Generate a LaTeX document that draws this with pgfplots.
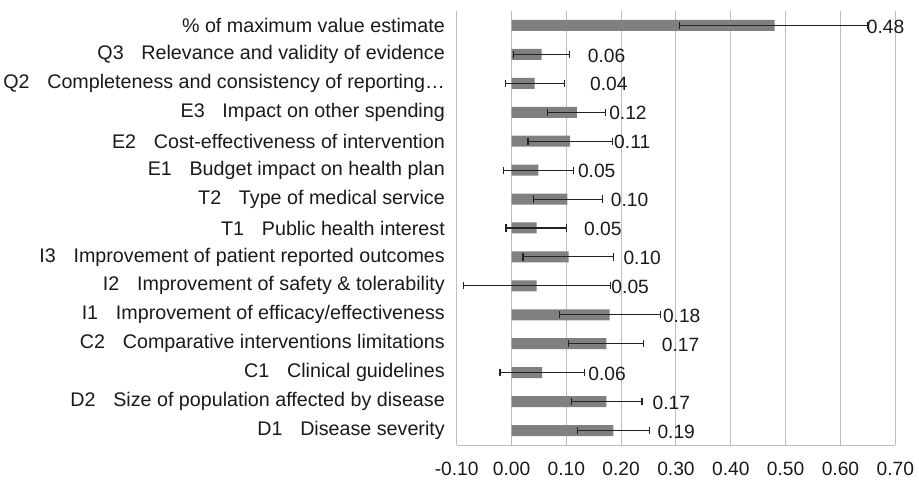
\documentclass[border=0pt]{standalone}
\usepackage{pgfplots}
\pgfplotsset{compat=1.18}
\usepackage{pgfplotstable}
\usepackage{fontspec}
\setmainfont{Liberation Sans}
\definecolor{barc}{HTML}{808080}
\definecolor{gridc}{HTML}{BEBEBE}
\definecolor{txt}{HTML}{1A1A1A}
\definecolor{errc}{HTML}{222222}
\newcommand\g{\hspace{0.9em}}
\pgfplotstableread{
y  x      em     ep     lx     lab
14 0.480  0.173  0.169  0.648  0.48
13 0.055  0.051  0.051  0.139  0.06
12 0.042  0.053  0.054  0.143  0.04
11 0.119  0.054  0.053  0.178  0.12
10 0.107  0.077  0.077  0.187  0.11
9  0.049  0.064  0.064  0.121  0.05
8  0.102  0.062  0.064  0.181  0.10
7  0.046  0.056  0.055  0.132  0.05
6  0.104  0.083  0.082  0.204  0.10
5  0.046  0.134  0.134  0.182  0.05
4  0.179  0.091  0.092  0.276  0.18
3  0.173  0.069  0.068  0.274  0.17
2  0.056  0.077  0.077  0.140  0.06
1  0.173  0.063  0.065  0.257  0.17
0  0.186  0.066  0.066  0.266  0.19
}\datatable
\begin{document}
\fontsize{19.2bp}{23bp}\selectfont
\begin{tikzpicture}
\useasboundingbox (-456.7bp,-35bp) rectangle (462.3bp,445bp);
\begin{axis}[
  at={(0,0)}, anchor=south west,
  scale only axis, width=438.6bp, height=434bp,
  xmin=-0.1, xmax=0.7, ymin=-0.5, ymax=14.5,
  xtick={-0.1,0,0.1,0.2,0.3,0.4,0.5,0.6,0.7},
  ytick={0,...,14},
  yticklabels={
    {D1\g Disease severity},
    {D2\g Size of population affected by disease},
    {C1\g Clinical guidelines},
    {C2\g Comparative interventions limitations},
    {I1\g Improvement of efficacy/effectiveness},
    {I2\g Improvement of safety \& tolerability},
    {I3\g Improvement of patient reported outcomes},
    {T1\g Public health interest},
    {T2\g Type of medical service},
    {E1\g Budget impact on health plan},
    {E2\g Cost-effectiveness of intervention},
    {E3\g Impact on other spending},
    {Q2\g Completeness and consistency of reporting…},
    {Q3\g Relevance and validity of evidence},
    {\% of maximum value estimate}},
  xticklabel style={anchor=base, inner sep=0pt, yshift=-30.7bp, text=txt},
  yticklabel style={anchor=east, inner sep=0pt, xshift=-11.7bp, text=txt,
    font=\fontsize{19.7bp}{23bp}\selectfont},
  /pgf/number format/.cd, fixed, fixed zerofill, precision=2, assume math mode=true,
  /pgfplots/.cd,
  major tick length=0pt,
  xmajorgrids, grid style={draw=gridc, line width=1bp},
  axis x line*=bottom, axis y line*=left,
  axis line style={-, draw=gridc, line width=1bp},
  clip=false,
]
\addplot[xbar, bar width=11bp, fill=barc, draw=none,
  error bars/.cd, x dir=both, x explicit, error mark=|,
  error bar style={draw=errc, line width=1.1bp},
  error mark options={draw=errc, line width=1.1bp, mark size=3.6bp}]
  table[x=x, y=y, x error plus=ep, x error minus=em] {\datatable};
\addplot[only marks, mark=none, nodes near coords, point meta=explicit symbolic,
  every node near coord/.append style={anchor=west, inner sep=0pt, text=txt, yshift=-1bp}]
  table[x=lx, y=y, meta=lab] {\datatable};
\end{axis}
\end{tikzpicture}
\end{document}
